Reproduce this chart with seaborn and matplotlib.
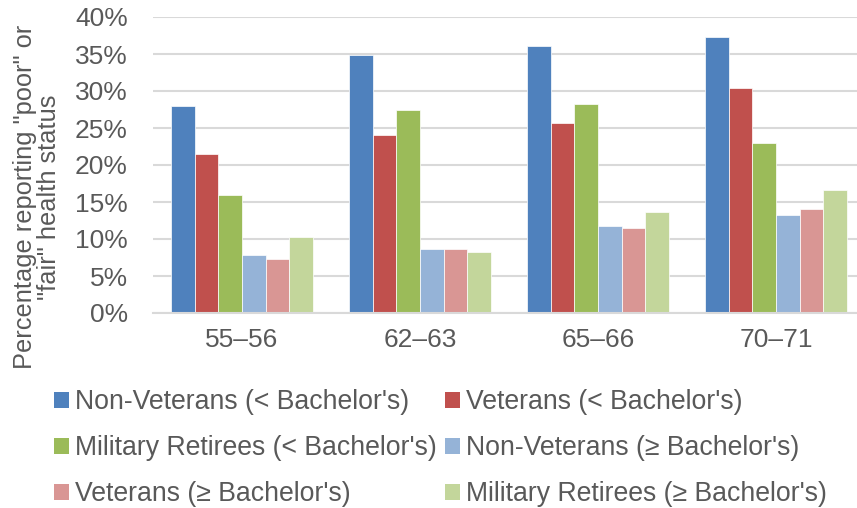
import pandas as pd
import seaborn as sns
import matplotlib.pyplot as plt
from matplotlib.patches import Patch

# data (percent)
age_groups = ["55–56", "62–63", "65–66", "70–71"]
series = [
    "Non-Veterans (< Bachelor's)",
    "Veterans (< Bachelor's)",
    "Military Retirees (< Bachelor's)",
    "Non-Veterans (≥ Bachelor's)",
    "Veterans (≥ Bachelor's)",
    "Military Retirees (≥ Bachelor's)",
]
nonvet_lt = [28.0, 34.8, 36.1, 37.3]
vet_lt = [21.5, 24.1, 25.7, 30.4]
retiree_lt = [15.9, 27.4, 28.2, 23.0]
nonvet_ge = [7.8, 8.7, 11.8, 13.2]
vet_ge = [7.3, 8.7, 11.5, 14.0]
retiree_ge = [10.3, 8.2, 13.6, 16.6]
colors = ["#4F81BD", "#C0504D", "#9BBB59", "#95B3D7", "#D99694", "#C3D69B"]
y_ticks = [0, 5, 10, 15, 20, 25, 30, 35, 40]

values = [nonvet_lt, vet_lt, retiree_lt, nonvet_ge, vet_ge, retiree_ge]
rows = []
for name, vals in zip(series, values):
    for g, v in zip(age_groups, vals):
        rows.append({"Age": g, "Group": name, "Pct": v})
df = pd.DataFrame(rows)

sns.set_style("white")
plt.rcParams["font.family"] = ["Liberation Sans", "DejaVu Sans"]
text_color = "#595959"
fs = 19
fs_leg = 19.2

W, H = 857, 508
fig = plt.figure(figsize=(W / 100, H / 100), dpi=100)
ax = fig.add_axes([153 / W, (H - 313) / H, 712 / W, 296 / H])

sns.barplot(data=df, x="Age", y="Pct", hue="Group", order=age_groups,
            hue_order=series, palette=colors, saturation=1, width=0.8, gap=0,
            edgecolor="white", linewidth=0.5, legend=False, ax=ax)

ax.set_xlim(-0.5, 3.5)
ax.set_ylim(0, 40)
ax.set_yticks(y_ticks)
ax.set_yticklabels([f"{t}%" for t in y_ticks])
ax.yaxis.grid(True, color="#D9D9D9", linewidth=1.5)
ax.set_axisbelow(True)
for side in ["top", "right", "left"]:
    ax.spines[side].set_visible(False)
ax.spines["bottom"].set_color("#D9D9D9")
ax.spines["bottom"].set_linewidth(1.5)
ax.tick_params(axis="y", length=0, pad=18, labelsize=fs, labelcolor=text_color)
ax.tick_params(axis="x", length=0, pad=11, labelsize=fs, labelcolor=text_color)
ax.set_xlabel("")
ax.set_ylabel("")

fig.text(37 / W, 1 - 197 / H, "Percentage reporting \"poor\" or\n\"fair\" health status",
         rotation=90, ha="center", va="center", multialignment="center",
         fontsize=18.3, color=text_color, linespacing=1.05)

# legend filled row by row like the reference (matplotlib fills columns first)
handles = [Patch(facecolor=c, edgecolor="none") for c in colors]
order = [0, 2, 4, 1, 3, 5]
fig.legend([handles[i] for i in order], [series[i] for i in order],
           ncol=2, loc="upper left", bbox_to_anchor=(54 / W, 1 - 389 / H),
           frameon=False, fontsize=fs_leg, labelcolor=text_color,
           handlelength=0.55, handleheight=0.55, handletextpad=0.25,
           columnspacing=0.3, labelspacing=0.75, borderpad=0, borderaxespad=0)

fig.savefig("out.png", dpi=100)
